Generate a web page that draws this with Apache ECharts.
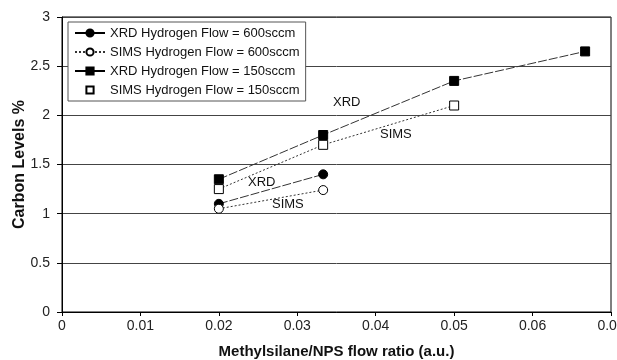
<!DOCTYPE html>
<html><head><meta charset="utf-8">
<script src="https://cdn.jsdelivr.net/npm/echarts@6/dist/echarts.min.js"></script>
<style>html,body{margin:0;padding:0;background:#fff}#c{width:617px;height:360px}</style>
</head><body><div id="c"></div>
<script>
const xrd600X = [0.02, 0.0333];
const xrd600Y = [1.1, 1.4];
const sims600X = [0.02, 0.0333];
const sims600Y = [1.05, 1.24];
const xrd150X = [0.02, 0.0333, 0.05, 0.0667];
const xrd150Y = [1.35, 1.8, 2.35, 2.65];
const sims150X = [0.02, 0.0333, 0.05];
const sims150Y = [1.25, 1.7, 2.1];
const seriesNames = ['XRD Hydrogen Flow = 600sccm','SIMS Hydrogen Flow = 600sccm','XRD Hydrogen Flow = 150sccm','SIMS Hydrogen Flow = 150sccm'];

const zip = (xs, ys) => xs.map((x, i) => [x, ys[i]]);
const font = 'Liberation Sans, Arial, sans-serif';
const chart = echarts.init(document.getElementById('c'));
function mk(name, data, symbol, filled, dash) {
  return {
    name, type: 'line', data, symbol, symbolSize: 9,
    lineStyle: { color: '#333', width: 1, type: dash },
    itemStyle: { color: filled ? '#000' : '#fff', borderColor: '#000', borderWidth: 1 },
    z: 3
  };
}
chart.setOption({
  animation: false,
  textStyle: { fontFamily: font },
  grid: { left: 62, right: 6, top: 17, bottom: 48, show: true, borderColor: '#000', borderWidth: 1,
          containLabel: false, outerBoundsMode: 'none' },
  xAxis: {
    type: 'value', min: 0, max: 0.07, interval: 0.01,
    name: 'Methylsilane/NPS flow ratio (a.u.)', nameLocation: 'middle', nameGap: 32, nameMoveOverlap: false,
    nameTextStyle: { fontSize: 15, fontWeight: 'bold', color: '#111', fontFamily: font },
    axisLine: { lineStyle: { color: '#000' } },
    axisTick: { show: true, length: 4, lineStyle: { color: '#000' } },
    axisLabel: { fontSize: 14, color: '#222', margin: 7, fontFamily: font },
    splitLine: { show: false }
  },
  yAxis: {
    type: 'value', min: 0, max: 3, interval: 0.5,
    name: 'Carbon Levels %', nameLocation: 'middle', nameGap: 34, nameMoveOverlap: false,
    nameTextStyle: { fontSize: 16, fontWeight: 'bold', color: '#111', fontFamily: font },
    axisLine: { show: true, lineStyle: { color: '#000' } },
    axisTick: { show: true, length: 5, lineStyle: { color: '#000' } },
    axisLabel: { fontSize: 14, color: '#222', margin: 12, fontFamily: font },
    splitLine: { show: true, lineStyle: { color: '#444', width: 1 } }
  },
  legend: {
    orient: 'vertical', left: 68, top: 22, itemGap: 5, itemWidth: 30, itemHeight: 9,
    backgroundColor: '#fff', borderColor: '#555', borderWidth: 1, padding: [4, 6, 4, 6],
    textStyle: { fontSize: 13, color: '#111', fontFamily: font, lineHeight: 14 },
    data: [
      { name: seriesNames[0], lineStyle: { type: 'solid', color: '#000' } },
      { name: seriesNames[1] },
      { name: seriesNames[2], lineStyle: { type: 'solid', color: '#000' } },
      { name: seriesNames[3], lineStyle: { width: 0, opacity: 0 } }
    ]
  },
  graphic: [
    { type: 'text', left: 333, top: 96, style: { text: 'XRD', fontSize: 13, fill: '#111', fontFamily: font } },
    { type: 'text', left: 380, top: 128, style: { text: 'SIMS', fontSize: 13, fill: '#111', fontFamily: font } },
    { type: 'text', left: 248, top: 176, style: { text: 'XRD', fontSize: 13, fill: '#111', fontFamily: font } },
    { type: 'text', left: 272, top: 198, style: { text: 'SIMS', fontSize: 13, fill: '#111', fontFamily: font } }
  ],
  series: [
    mk(seriesNames[0], zip(xrd600X, xrd600Y), 'circle', true, [9, 2]),
    mk(seriesNames[1], zip(sims600X, sims600Y), 'circle', false, [2, 2]),
    mk(seriesNames[2], zip(xrd150X, xrd150Y), 'rect', true, [9, 2]),
    mk(seriesNames[3], zip(sims150X, sims150Y), 'rect', false, [2, 2])
  ]
});
</script></body></html>
